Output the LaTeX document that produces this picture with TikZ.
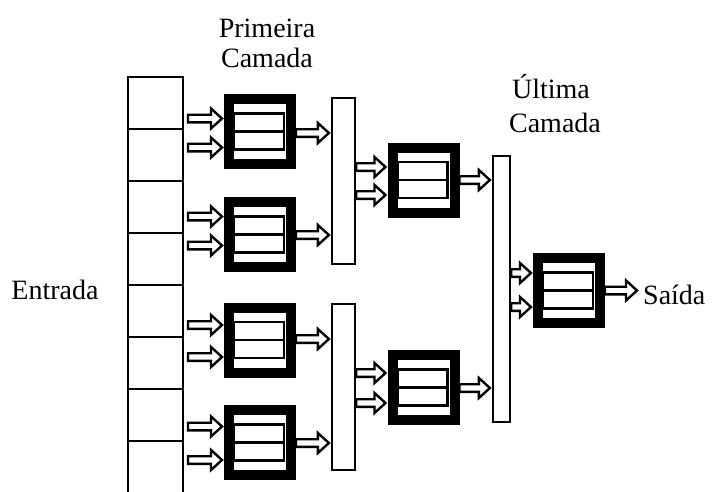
\documentclass[tikz,border=0pt]{standalone}
\usepackage{fontspec}
\setmainfont{Liberation Serif}
\usetikzlibrary{calc}

\tikzset{
  cell/.style={draw, line width=2pt, minimum width=55pt, minimum height=52pt, inner sep=0pt},
  bus/.style={draw, line width=2.2pt, fill=white, inner sep=0pt},
  neuron/.style={draw=black, line width=10pt, fill=white, inner sep=0pt, minimum width=62pt, minimum height=65pt,
    path picture={
      \draw[line width=2.2pt] ($(path picture bounding box.center)+(-26pt,-18pt)$) rectangle ($(path picture bounding box.center)+(24pt,18pt)$);
      \draw[line width=2.2pt] ($(path picture bounding box.center)+(-26pt,0pt)$) -- ++(50pt,0pt);
    }},
  hollow/.style={line width=2.4pt, fill=white, to path={let \p1=(\tikztostart), \p2=(\tikztotarget) in
    (\x1,\y1+3.8pt) -- (\x2-13pt,\y1+3.8pt) -- (\x2-13pt,\y1+10pt) -- (\x2-2pt,\y1) -- (\x2-13pt,\y1-10pt) -- (\x2-13pt,\y1-3.8pt) -- (\x1,\y1-3.8pt) -- cycle}},
  txt/.style={font=\fontsize{28}{30}\selectfont, inner sep=0pt}
}

\begin{document}
\begin{tikzpicture}[x=1pt, y=-1pt]
  \useasboundingbox (0,0) rectangle (712,491);

  % input column
  \foreach \i in {1,...,8}
    \node (c\i) at (155.5,51+52*\i) [cell] {};

  % first layer
  \node (p1) at (260,131.5) [neuron] {};
  \node (p2) at (260,234.5) [neuron] {};
  \node (p3) at (260,340) [neuron] {};
  \node (p4) at (260,442.5) [neuron] {};

  \node (b1) at (343.5,181) [bus, minimum width=23pt, minimum height=166pt] {};
  \node (b2) at (343.5,387) [bus, minimum width=23pt, minimum height=166pt] {};

  % second layer
  \node (m1) at (423.5,180) [neuron] {};
  \node (m2) at (423.5,387.5) [neuron] {};

  \node (b3) at (501.5,289) [bus, minimum width=17pt, minimum height=266pt] {};

  % last layer
  \node (u) at (569,290.5) [neuron] {};

  % labels
  \node (pri) at (267,37) [txt, anchor=base] {Primeira};
  \node (pcam) at (267,67) [txt, anchor=base] {Camada};
  \node (ult) at (551,98) [txt, anchor=base] {Última};
  \node (ucam) at (555,132) [txt, anchor=base] {Camada};
  \node (ent) at (55,299) [txt, anchor=base] {Entrada};
  \node (sai) at (643,304) [txt, anchor=base west] {Saída};

  % inputs to first layer
  \foreach \n/\da/\db in {p1/-13/16, p2/-18/11, p3/-15/17, p4/-16/17.5} {
    \draw[hollow] ($(c1.east |- \n.west)+(4,\da)$) to ($(\n.west)+(0,\da)$);
    \draw[hollow] ($(c1.east |- \n.west)+(4,\db)$) to ($(\n.west)+(0,\db)$);
  }

  % first layer to buses
  \draw[hollow] ($(p1.east)+(0,1.5)$) to ($(p1.east -| b1.west)+(0,1.5)$);
  \draw[hollow] ($(p2.east)+(0,0.5)$) to ($(p2.east -| b1.west)+(0,0.5)$);
  \draw[hollow] ($(p3.east)+(0,-1)$) to ($(p3.east -| b2.west)+(0,-1)$);
  \draw[hollow] ($(p4.east)+(0,0.5)$) to ($(p4.east -| b2.west)+(0,0.5)$);

  % buses to second layer
  \draw[hollow] ($(b1.east |- m1.west)+(0,-13)$) to ($(m1.west)+(0,-13)$);
  \draw[hollow] ($(b1.east |- m1.west)+(0,15)$) to ($(m1.west)+(0,15)$);
  \draw[hollow] ($(b2.east |- m2.west)+(0,-14.5)$) to ($(m2.west)+(0,-14.5)$);
  \draw[hollow] ($(b2.east |- m2.west)+(0,15.5)$) to ($(m2.west)+(0,15.5)$);

  % second layer to last bus
  \draw[hollow] (m1.east) to (m1.east -| b3.west);
  \draw[hollow] ($(m2.east)+(0,0.5)$) to ($(m2.east -| b3.west)+(0,0.5)$);

  % last layer
  \draw[hollow] ($(b3.east |- u.west)+(0,-17.5)$) to ($(u.west)+(0,-17.5)$);
  \draw[hollow] ($(b3.east |- u.west)+(0,16.5)$) to ($(u.west)+(0,16.5)$);
  \draw[hollow] (u.east) to ([xshift=-4pt]u.east -| sai.west);
\end{tikzpicture}
\end{document}
